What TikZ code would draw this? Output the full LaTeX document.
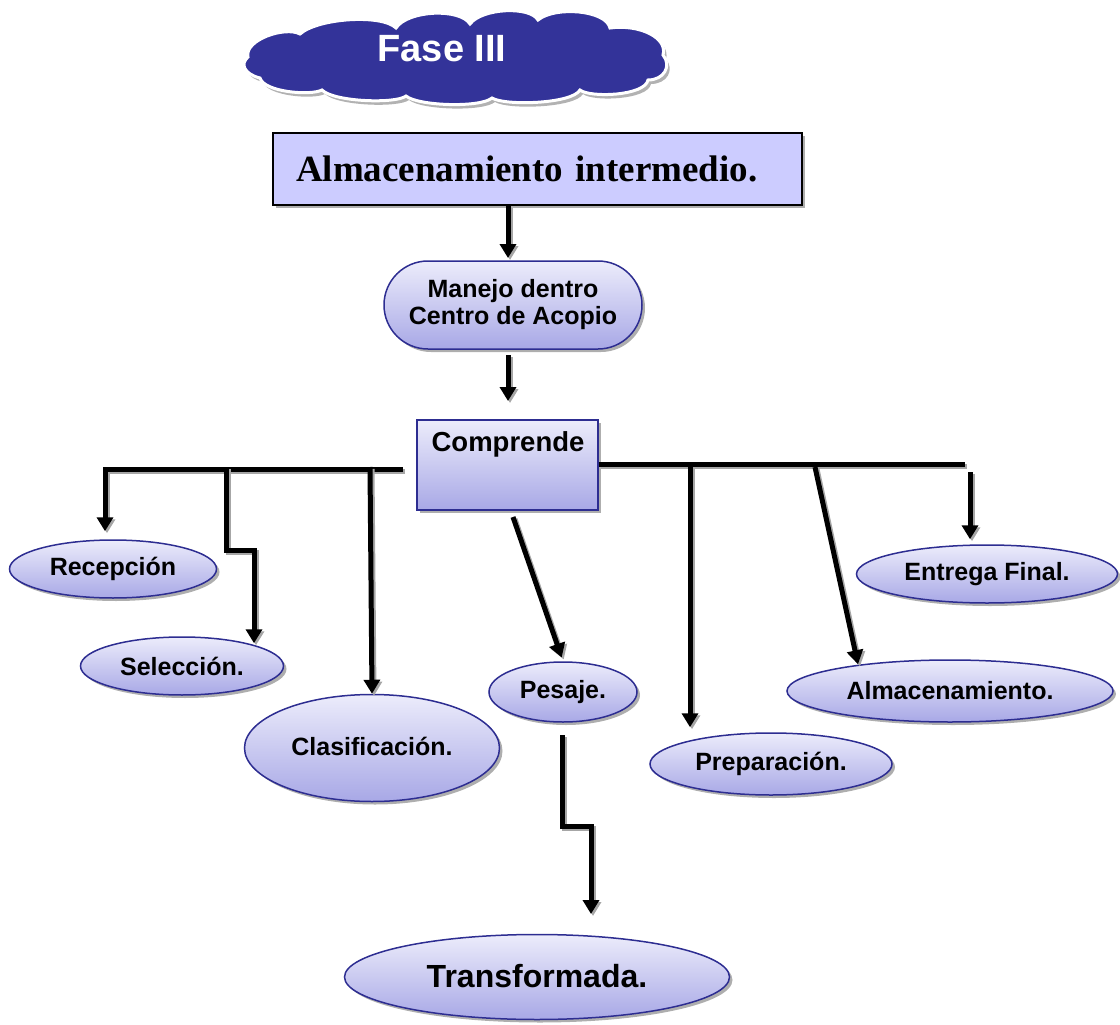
\documentclass[tikz,border=0pt]{standalone}
\usepackage{fontspec}
\setmainfont{Liberation Sans}
\newfontfamily\serifbf{Liberation Serif}
\usetikzlibrary{shapes.geometric,shadows,arrows.meta,calc}

\definecolor{cloudblue}{RGB}{51,51,153}
\definecolor{titlefill}{RGB}{204,204,255}
\definecolor{edgeblue}{RGB}{45,45,145}
\definecolor{shadetop}{RGB}{236,236,251}
\definecolor{shadebot}{RGB}{168,168,230}

\newcommand\link[2][]{%
  \draw[connshade,#1] #2;
  \draw[conn,#1] #2;}

% outline of the heading cloud
\newcommand\cloudoutline{%
  (248,57) .. controls (244,40) and (285,26) .. (300,34)
  .. controls (318,18) and (382,14) .. (396,28)
  .. controls (408,10) and (460,8) .. (470,24)
  .. controls (482,8) and (530,6) .. (538,20)
  .. controls (555,6) and (606,10) .. (610,28)
  .. controls (640,24) and (668,38) .. (663,55)
  .. controls (672,66) and (664,80) .. (648,80)
  .. controls (645,96) and (590,98) .. (580,90)
  .. controls (572,104) and (505,106) .. (492,98)
  .. controls (480,108) and (418,106) .. (406,96)
  .. controls (396,104) and (334,102) .. (322,90)
  .. controls (310,96) and (264,92) .. (260,78)
  .. controls (244,74) and (240,64) .. (248,57) -- cycle}

\tikzset{
  softshadow/.style={drop shadow={shadow xshift=3pt,shadow yshift=-3pt,fill=black!45,opacity=.7}},
  conn/.style={line width=5pt,draw=black},
  connshade/.style={line width=5pt,draw=black!35,transform canvas={xshift=2pt,yshift=-2pt}},
  tip/.style={-{Triangle[width=16pt,length=14pt]}},
  lavender/.style={top color=shadetop,bottom color=shadebot,draw=edgeblue,line width=1.5pt,softshadow},
  oval/.style={ellipse,lavender,inner sep=0pt,font=\bfseries\fontsize{25}{28}\selectfont},
  titlebox/.style={rectangle,draw=black,line width=2pt,fill=titlefill,softshadow,
    minimum height=72pt,text width=483pt,inner xsep=23pt,inner ysep=0pt,align=left,
    font=\serifbf\bfseries\fontsize{37}{40}\selectfont},
}

\begin{document}
\begin{tikzpicture}[x=1pt,y=-1pt]
\useasboundingbox (0,0) rectangle (1120,1025);

% heading cloud: grey shadow, then the blue cloud with a white rim
\fill[black!30,transform canvas={xshift=3pt,yshift=-4pt}] \cloudoutline;
\filldraw[fill=cloudblue,draw=white,line width=3pt] \cloudoutline;
\node[text=white,font=\bfseries\fontsize{38}{40}\selectfont] (fasetxt) at (442,49) {Fase III};

% main boxes
\node[titlebox] (title) at (537.5,169) {Almacenamiento intermedio.};
\node[rectangle,rounded corners=44pt,lavender,minimum width=258pt,minimum height=88pt,
      inner sep=0pt,align=center,font=\bfseries\fontsize{25}{27}\selectfont]
      (manejo) at (513,305) {Manejo dentro\\Centro de Acopio};
\node[rectangle,lavender,minimum width=181pt,minimum height=90pt,inner sep=0pt]
      (comp) at (507.5,465) {};
\node[font=\bfseries\fontsize{27.5}{30}\selectfont] (comptxt) at (508,444) {Comprende};

% activities
\node[oval,minimum width=207pt,minimum height=58pt] (recep) at (113,569) {Recepción};
\node[oval,minimum width=203pt,minimum height=58pt] (selec) at (182,666) {Selección.};
\node[oval,minimum width=255pt,minimum height=107pt] (clas) at (372,748) {\raisebox{4pt}{Clasificación.}};
\node[oval,minimum width=148pt,minimum height=60pt] (pesaje) at (563,692) {Pesaje.};
\node[oval,minimum width=242pt,minimum height=62pt] (prep) at (771,764) {Preparación.};
\node[oval,minimum width=326pt,minimum height=62pt] (almac) at (950,691) {Almacenamiento.};
\node[oval,minimum width=261pt,minimum height=58pt] (entrega) at (987,574) {Entrega Final.};
\node[oval,minimum width=385pt,minimum height=85pt,font=\bfseries\fontsize{32}{34}\selectfont]
      (transf) at (537,977) {\raisebox{3pt}{Transformada.}};

% connector end points
\coordinate (a1s) at (508,206);
\coordinate (a1e) at (508,258);
\coordinate (a2s) at (508,355);
\coordinate (a2e) at (508,401);
\coordinate (busL) at (403,469);
\coordinate (busLend) at (105,469);
\coordinate (busR) at (965,464);
\coordinate (selA) at (226,467);
\coordinate (selB) at (226,550);
\coordinate (selC) at (254,550);
\coordinate (clasA) at (370,467);
\coordinate (pesA) at (513,517);
\coordinate (trA) at (562,735);
\coordinate (trB) at (562,826);
\coordinate (trC) at (591,826);
\coordinate (trD) at (591,914);
\coordinate (prepA) at (690,467);
\coordinate (almA) at (815,467);
\coordinate (entA) at (970,472);

% connectors
\link[tip]{(a1s) -- (a1e)}
\link[tip]{(a2s) -- (a2e)}
\link[tip]{(busL) -- (busLend) -- ($(busLend |- recep.north)+(0,-8)$)}
\link[tip]{(selA) -- (selB) -- (selC) -- ($(selC |- selec.north)+(0,7)$)}
\link[tip]{(clasA) -- (clas.north)}
\link[tip,shorten >=4pt]{(pesA) -- (pesaje.north)}
\link[tip]{(trA) -- (trB) -- (trC) -- (trD)}
\link{(comp.east |- busR) -- (busR)}
\link[tip]{(prepA) -- ($(prepA |- prep.north)+(0,-5)$)}
\link[tip]{(almA) -- ($(almac.north)+(-92,5)$)}
\link[tip]{(entA) -- ($(entA |- entrega.north)+(0,-5)$)}
\end{tikzpicture}
\end{document}
